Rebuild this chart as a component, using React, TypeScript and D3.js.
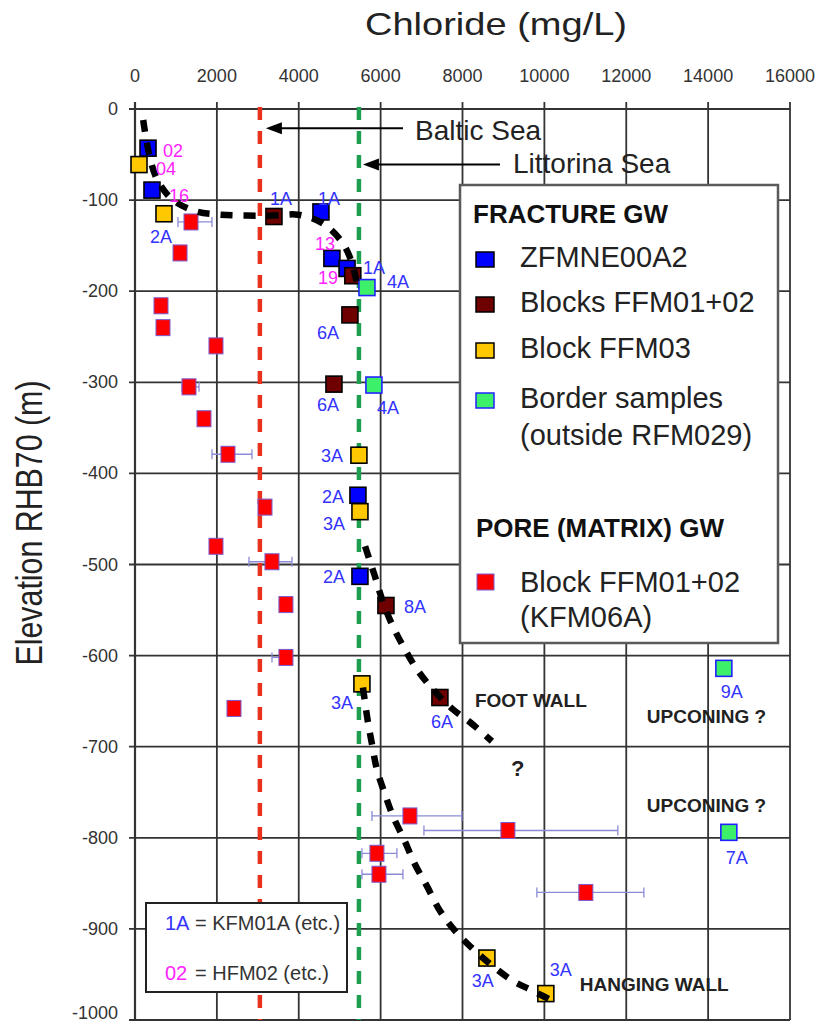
import React from 'react';
import * as d3 from 'd3';

// axis ticks
const chlorideTicks = [0, 2000, 4000, 6000, 8000, 10000, 12000, 14000, 16000];
const elevationTicks = [0, -100, -200, -300, -400, -500, -600, -700, -800, -900, -1000];

// reference lines (mg/L)
const balticSea = 3050;
const littorinaSea = 5470;

// fracture groundwater: [chloride, elevation]
const zfmne00a2 = [[318, -43], [415, -89], [4542, -113], [4810, -164], [5180, -175], [5446, -424], [5495, -513]];
const blocksFfm0102 = [[3394, -118], [5320, -183], [5250, -226], [4860, -302], [6130, -545], [7448, -646]];
const blockFfm03 = [[98, -61], [708, -115], [5470, -380], [5495, -442], [5543, -631], [8596, -932], [10036, -971]];
const borderSamples = [[5666, -196], [5836, -303], [14384, -614], [14506, -794]];

// pore water: [chloride, elevation, low, high]
const poreWater = [
  [1368, -124, 1050, 1880], [1100, -158], [635, -216], [684, -240], [1978, -260],
  [1319, -305, 1148, 1563], [1685, -340], [2271, -379, 1880, 2857], [3175, -437],
  [1978, -480], [3346, -497, 2784, 3834], [3687, -544], [3687, -602, 3346, 3800],
  [2418, -658], [6716, -776, 5788, 7985], [9109, -792, 7058, 11795],
  [5910, -817, 5544, 6398], [5959, -840, 5544, 6545], [11013, -860, 9817, 12430],
];

// hand drawn trend lines
const trendUpper = [[200, -12], [342, -49], [537, -77], [904, -99], [1465, -112], [2076, -116], [3370, -117], [3980, -116], [4566, -125], [5055, -146], [5300, -169], [5446, -198]];
const trendFootWall = [[5620, -480], [5861, -513], [6056, -541], [6300, -568], [6593, -593], [6886, -615], [7277, -637], [7766, -659], [8181, -673], [8718, -694]];
const trendHangingWall = [[5568, -635], [5690, -673], [5788, -697], [5910, -725], [6105, -752], [6300, -776], [6593, -804], [6838, -829], [7131, -853], [7448, -880], [7814, -902], [8254, -922], [8742, -941], [9231, -957], [9719, -968], [10330, -982]];

// borehole labels: [text, chloride, elevation, colour key]
const pointLabels: [string, number, number, string][] = [
  ['02', 928, -53, 'hfm'], ['04', 757, -72, 'hfm'], ['16', 1074, -102, 'hfm'],
  ['2A', 635, -147, 'kfm'], ['1A', 3565, -105, 'kfm'], ['1A', 4737, -105, 'kfm'],
  ['13', 4640, -155, 'hfm'], ['19', 4713, -192, 'hfm'], ['1A', 5836, -181, 'kfm'],
  ['4A', 6423, -197, 'kfm'], ['6A', 4713, -253, 'kfm'], ['6A', 4713, -332, 'kfm'],
  ['4A', 6178, -335, 'kfm'], ['3A', 4810, -388, 'kfm'], ['2A', 4835, -432, 'kfm'],
  ['3A', 4860, -462, 'kfm'], ['2A', 4860, -520, 'kfm'], ['8A', 6838, -553, 'kfm'],
  ['3A', 5055, -659, 'kfm'], ['6A', 7497, -679, 'kfm'], ['9A', 14579, -646, 'kfm'],
  ['7A', 14701, -829, 'kfm'], ['3A', 8498, -964, 'kfm'], ['3A', 10403, -952, 'kfm'],
];

// free text notes: [text, chloride, elevation]
const notes: [string, number, number][] = [
  ['FOOT WALL', 8303, -656], ['UPCONING ?', 12503, -674], ['?', 9182, -732],
  ['UPCONING ?', 12503, -772], ['HANGING WALL', 10867, -968],
];

const FONT = 'Liberation Sans, Arial, Helvetica, sans-serif';
const labelColor: Record<string, string> = { kfm: '#3333ff', hfm: '#ff22ff' };

export default function App() {
  const x = d3.scaleLinear().domain([0, 16000]).range([135, 790]);
  const y = d3.scaleLinear().domain([0, -1000]).range([109, 1020]);
  const trend = d3.line<number[]>().x(d => x(d[0])).y(d => y(d[1])).curve(d3.curveCatmullRom);

  const square = (d: number[], i: number, fill: string, stroke: string) => (
    <rect key={i} x={x(d[0]) - 8} y={y(d[1]) - 8} width={16} height={16}
      fill={fill} stroke={stroke} strokeWidth={1.6} />
  );

  const legendRows = [
    { t: 'ZFMNE00A2', fill: '#0000ff', stroke: '#000', yy: 267 },
    { t: 'Blocks FFM01+02', fill: '#6e0000', stroke: '#000', yy: 312 },
    { t: 'Block FFM03', fill: '#ffc800', stroke: '#000', yy: 358 },
    { t: 'Border samples', fill: '#3cf06a', stroke: '#2222ff', yy: 408 },
  ];

  return (
    <svg width={820} height={1025} style={{ position: 'absolute', left: 0, top: 0, background: '#fff' }}
      fontFamily={FONT}>
      {/* axis titles */}
      <text x={365} y={35} fontSize={32} textLength={262} lengthAdjust="spacingAndGlyphs" fill="#222">Chloride (mg/L)</text>
      <text transform="translate(42,523) rotate(-90)" textAnchor="middle" fontSize={37}
        textLength={285} lengthAdjust="spacingAndGlyphs" fill="#222">Elevation RHB70 (m)</text>

      {/* grid */}
      {chlorideTicks.map(t => (
        <g key={'x' + t}>
          <line x1={x(t)} x2={x(t)} y1={y(0) - 7} y2={y(-1000)} stroke="#333" strokeWidth={t === 0 ? 2.2 : 1.8} />
          <text x={x(t)} y={82} textAnchor="middle" fontSize={18} fill="#333">{t}</text>
        </g>
      ))}
      {elevationTicks.map(t => (
        <g key={'y' + t}>
          <line x1={x(0) - 6} x2={x(16000)} y1={y(t)} y2={y(t)} stroke="#333" strokeWidth={t === 0 ? 2.2 : 1.8} />
          <text x={118} y={Math.min(y(t) + 6, 1019)} textAnchor="end" fontSize={18} fill="#333">{t}</text>
        </g>
      ))}

      {/* sea water reference lines */}
      <line x1={x(balticSea)} x2={x(balticSea)} y1={y(0) - 2} y2={y(-1000)} stroke="#e8321e" strokeWidth={4.5} strokeDasharray="13 11" />
      <line x1={x(littorinaSea)} x2={x(littorinaSea)} y1={y(0) - 2} y2={y(-1000)} stroke="#1e9e4f" strokeWidth={4.5} strokeDasharray="13 11" />

      {/* pore water error bars and points */}
      {poreWater.filter(d => d.length > 2).map((d, i) => (
        <g key={'e' + i} stroke="#8a8ad8" strokeWidth={1.3}>
          <line x1={x(d[2])} x2={x(d[3])} y1={y(d[1])} y2={y(d[1])} />
          <line x1={x(d[2])} x2={x(d[2])} y1={y(d[1]) - 5} y2={y(d[1]) + 5} />
          <line x1={x(d[3])} x2={x(d[3])} y1={y(d[1]) - 5} y2={y(d[1]) + 5} />
        </g>
      ))}
      {poreWater.map((d, i) => (
        <rect key={'p' + i} x={x(d[0]) - 7} y={y(d[1]) - 8} width={14} height={16}
          fill="#ff0000" stroke="#7a5ad0" strokeWidth={1} />
      ))}

      {/* fracture groundwater */}
      {zfmne00a2.map((d, i) => square(d, i, '#0000ff', '#000'))}
      {blocksFfm0102.map((d, i) => square(d, i, '#6e0000', '#000'))}
      {blockFfm03.map((d, i) => square(d, i, '#ffc800', '#000'))}
      {borderSamples.map((d, i) => square(d, i, '#3cf06a', '#2222ff'))}

      {/* trend lines */}
      {[trendUpper, trendFootWall, trendHangingWall].map((t, i) => (
        <path key={'t' + i} d={trend(t) || ''} fill="none" stroke="#000" strokeWidth={6.5} strokeDasharray="12 11" />
      ))}

      {/* labels */}
      {pointLabels.map((l, i) => (
        <text key={'l' + i} x={x(l[1])} y={y(l[2])} textAnchor="middle" fontSize={18} fill={labelColor[l[3]]}>{l[0]}</text>
      ))}
      {notes.map((n, i) => (
        <text key={'n' + i} x={x(n[1])} y={y(n[2])} fontSize={n[0] === '?' ? 22 : 19} fontWeight="bold" fill="#222">{n[0]}</text>
      ))}

      {/* sea arrows */}
      <line x1={x(balticSea) + 14} x2={403} y1={y(-21)} y2={y(-21)} stroke="#000" strokeWidth={2} />
      <path d={`M${x(balticSea) + 6},${y(-21)} l16,-6 l0,12 z`} fill="#000" />
      <text x={415} y={140} fontSize={28} fill="#222">Baltic Sea</text>
      <line x1={x(littorinaSea) + 14} x2={500} y1={y(-61)} y2={y(-61)} stroke="#000" strokeWidth={2} />
      <path d={`M${x(littorinaSea) + 4},${y(-61)} l16,-6 l0,12 z`} fill="#000" />
      <text x={513} y={173} fontSize={28} fill="#222">Littorina Sea</text>

      {/* main legend */}
      <rect x={460} y={185} width={318} height={458} fill="#fff" stroke="#5a5a5a" strokeWidth={2.5} />
      <text x={473} y={223} fontSize={26} fontWeight="bold" fill="#111">FRACTURE GW</text>
      {legendRows.map(r => (
        <g key={r.t}>
          <rect x={476} y={r.yy - 15} width={18} height={15} fill={r.fill} stroke={r.stroke} strokeWidth={1.5} />
          <text x={520} y={r.yy} fontSize={29} fill="#222">{r.t}</text>
        </g>
      ))}
      <text x={520} y={445} fontSize={29} fill="#222">(outside RFM029)</text>
      <text x={476} y={537} fontSize={26} fontWeight="bold" fill="#111">PORE (MATRIX) GW</text>
      <rect x={477} y={574} width={17} height={16} fill="#ff0000" stroke="#7a5ad0" strokeWidth={1} />
      <text x={520} y={592} fontSize={29} fill="#222">Block FFM01+02</text>
      <text x={520} y={627} fontSize={29} fill="#222">(KFM06A)</text>

      {/* borehole key */}
      <rect x={146} y={903} width={201} height={89} fill="#fff" stroke="#222" strokeWidth={2} />
      <text x={165} y={930} fontSize={20} fill="#3333ff">1A</text>
      <text x={195} y={930} fontSize={20} fill="#333">= KFM01A (etc.)</text>
      <text x={165} y={980} fontSize={20} fill="#ff22ff">02</text>
      <text x={195} y={980} fontSize={20} fill="#333">= HFM02 (etc.)</text>
    </svg>
  );
}
